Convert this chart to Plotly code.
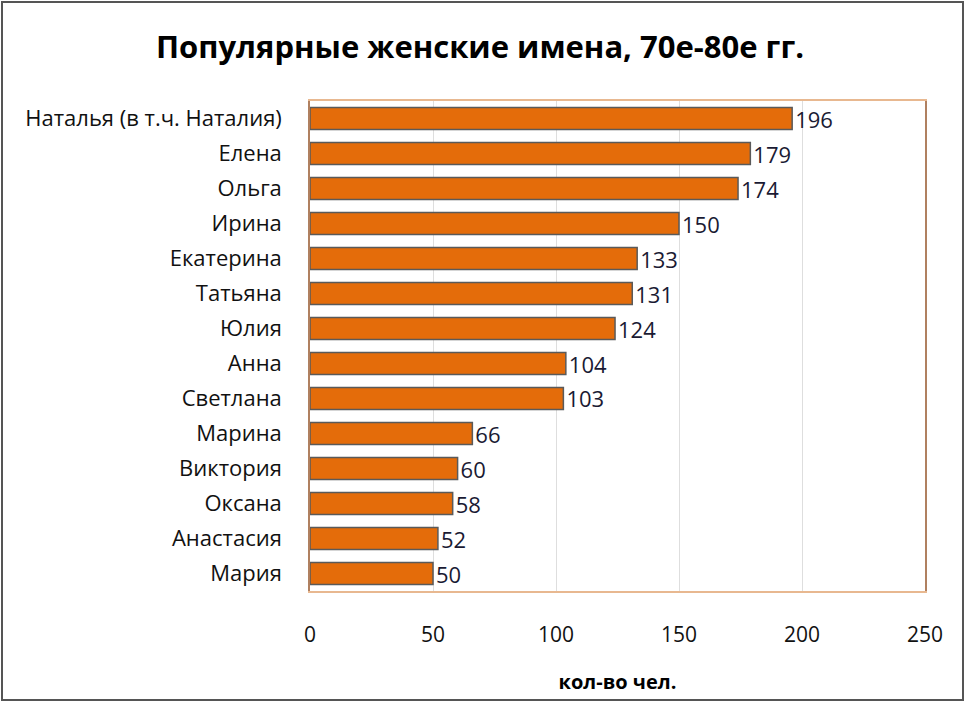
import plotly.graph_objects as go

names = ["Наталья (в т.ч. Наталия)", "Елена", "Ольга", "Ирина", "Екатерина", "Татьяна",
         "Юлия", "Анна", "Светлана", "Марина", "Виктория", "Оксана", "Анастасия", "Мария"]
counts = [196, 179, 174, 150, 133, 131, 124, 104, 103, 66, 60, 58, 52, 50]
x_ticks = [0, 50, 100, 150, 200, 250]

W, H = 966, 704
L, R, T, B = 310, 41, 101, 113
pw, ph = W - L - R, H - T - B

fig = go.Figure(go.Bar(
    x=counts, y=names, orientation="h",
    marker=dict(color="#e46c0a", line=dict(color="#5a5a5a", width=1.5)),
    text=[str(c) for c in counts], textposition="outside", cliponaxis=False,
    constraintext="none",
    textfont=dict(family="Open Sans, sans-serif", size=22, color="#1a1a33"),
    width=0.63,
))

def px(x):
    return (x - L) / pw

def py(y):
    return 1 - (y - T) / ph

fig.add_shape(type="rect", xref="paper", yref="paper",
              x0=px(2), x1=px(963), y0=py(700), y1=py(2),
              line=dict(color="#555555", width=2), layer="below")

fig.update_layout(
    width=W, height=H,
    margin=dict(l=L, r=R, t=T, b=B),
    paper_bgcolor="white", plot_bgcolor="white",
    title=dict(text="<b>Популярные женские имена, 70е-80е гг.</b>", x=480 / W, xanchor="center",
               y=1 - 47 / H, yanchor="middle",
               font=dict(family="Open Sans, sans-serif", size=31, color="black")),
    showlegend=False,
    bargap=0.37,
)
fig.update_xaxes(range=[0, 250], tickvals=x_ticks, ticktext=[str(v) for v in x_ticks],
                 showgrid=True, gridcolor="#dedede", gridwidth=1,
                 zeroline=False, showline=True, linecolor="#e8b890", linewidth=2, mirror=True,
                 ticks="", ticklabelstandoff=24,
                 tickfont=dict(family="Open Sans, sans-serif", size=21, color="#111111"),
                 title=dict(text="<b>кол-во чел.</b>", standoff=28,
                            font=dict(family="Open Sans, sans-serif", size=20, color="black")))
fig.update_yaxes(autorange="reversed", showline=True, linecolor="#b08060", linewidth=1.5, mirror=True,
                 ticks="", ticklabelstandoff=22,
                 tickfont=dict(family="Open Sans, sans-serif", size=22, color="#111111"))

fig.write_html("out.html", config={"displayModeBar": False},
               post_script="document.body.style.margin='0px';")
